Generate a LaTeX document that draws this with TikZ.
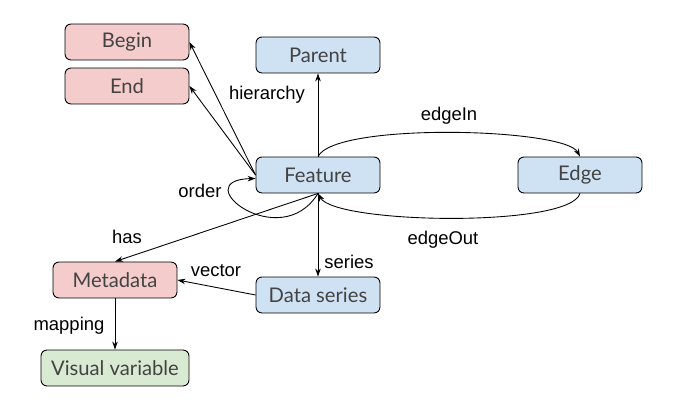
\documentclass[tikz,border=0pt]{standalone}
\usepackage{fontspec}
\setmainfont{Liberation Sans}
\newfontfamily\boxfont{Lato}
\usepackage{tikz}
\usetikzlibrary{positioning, arrows.meta}
\definecolor{dgRed}{RGB}{244, 204, 204}
\definecolor{dgBlue}{RGB}{207, 226, 243}
\definecolor{dgGreen}{RGB}{217, 234, 211}
\definecolor{dgText}{RGB}{67, 67, 67}
\tikzset{
    box/.style={
        rectangle,
        rounded corners=1.2mm,
        draw=black,
        line width=0.5pt,
        minimum width=2.48cm,
        minimum height=0.72cm,
        font=\boxfont\fontsize{11.5}{13}\selectfont,
        text=dgText
    },
    redbox/.style={box, fill=dgRed},
    bluebox/.style={box, fill=dgBlue},
    greenbox/.style={box, fill=dgGreen},
    rel/.style={
        -{Stealth[length=1.6mm, width=1.1mm]},
        line width=0.5pt
    },
    tag/.style={
        font=\fontsize{10.5}{12}\selectfont,
        text=black
    }
}

\begin{document}
\begin{tikzpicture}[x=0.02cm, y=-0.02cm]
    \useasboundingbox (0,0) rectangle (681,405);

    % Nodes
    \node[redbox] (begin) at (127,42) {Begin};
    \node[redbox] (end) at (127,86) {End};
    \node[bluebox] (parent) at (318,55) {Parent};
    \node[bluebox] (feature) at (318,175) {Feature};
    \node[bluebox] (edge) at (580,175) {Edge};
    \node[redbox] (meta) at (115,280) {Metadata};
    \node[bluebox] (series) at (318,295) {Data series};
    \node[greenbox, minimum width=2.96cm] (visual) at (115,368) {Visual variable};

    % Relations
    \draw[rel] (feature.west) -- (begin.east);
    \draw[rel] (feature.west) -- (end.east);
    \draw[rel] (feature.north) -- (parent.south);
    \draw[rel] (feature.south) .. controls (280,255) and (185,180) .. ([yshift=-2pt]feature.west);
    \draw[rel] (feature.north) .. controls (335,122) and (565,128) .. (edge.north);
    \draw[rel] (edge.south) .. controls (570,228) and (335,224) .. (feature.south);
    \draw[rel] (feature.south) -- (meta.north);
    \draw[rel] (feature.south) -- (series.north);
    \draw[rel] (series.west) -- (meta.east);
    \draw[rel] (meta.south) -- (visual.north);

    % Labels
    \node[tag] (lhier) at (267,95) {hierarchy};
    \node[tag] (lorder) at (200,191) {order};
    \node[tag] (lin) at (449,116) {edgeIn};
    \node[tag] (lout) at (443,240) {edgeOut};
    \node[tag] (lhas) at (127,237) {has};
    \node[tag] (lseries) at (349,262) {series};
    \node[tag] (lvector) at (216,271) {vector};
    \node[tag] (lmap) at (69,326) {mapping};
\end{tikzpicture}
\end{document}
